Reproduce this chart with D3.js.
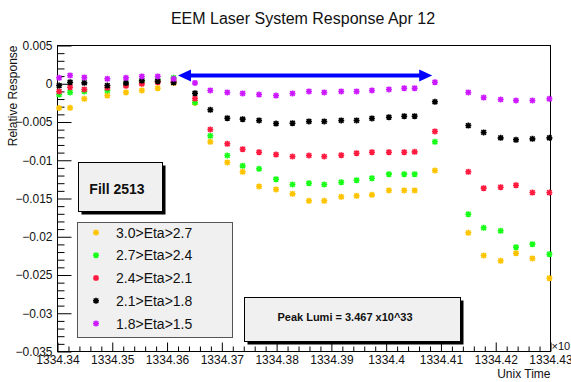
<!DOCTYPE html>
<html>
<head>
<meta charset="utf-8">
<script src="https://cdn.jsdelivr.net/npm/d3@7/dist/d3.min.js"></script>
<style>
  html, body { margin: 0; padding: 0; background: #fff; }
  svg { display: block; font-family: "Liberation Sans", Arial, Helvetica, sans-serif; }
</style>
</head>
<body>
<svg id="chart" width="571" height="382"></svg>
<script>
// Measurement times (Unix time / 10^6)
const times = [
  1334.3403, 1334.3423, 1334.3449, 1334.3491, 1334.3525, 1334.3554, 1334.3583, 1334.3612,
  1334.3651, 1334.3679, 1334.3710, 1334.3738, 1334.3768, 1334.3799, 1334.3829, 1334.3859,
  1334.3887, 1334.3918, 1334.3946, 1334.3974, 1334.4005, 1334.4033, 1334.4052, 1334.4089,
  1334.4150, 1334.4178, 1334.4209, 1334.4237, 1334.4267, 1334.4298
];

// Relative response per eta ring
const eta30_27 = [
  -0.00317, -0.00314, -0.00197, -0.00154, -0.00114, -0.00088, -0.00058, 0.00010,
  -0.00250, -0.00759, -0.01029, -0.01151, -0.01343, -0.01382, -0.01439, -0.01530,
  -0.01530, -0.01478, -0.01465, -0.01452, -0.01395, -0.01395, -0.01395, -0.01134,
  -0.01948, -0.02245, -0.02314, -0.02215, -0.02284, -0.02542
];
const eta27_24 = [
  -0.00141, -0.00114, -0.00101, -0.00088, -0.00010, 0.00033, 0.00052, 0.00078,
  -0.00245, -0.00680, -0.00938, -0.01073, -0.01112, -0.01248, -0.01317, -0.01300,
  -0.01317, -0.01287, -0.01261, -0.01235, -0.01182, -0.01182, -0.01182, -0.00759,
  -0.01705, -0.01883, -0.01922, -0.02137, -0.02097, -0.02228
];
const eta24_21 = [
  -0.00101, -0.00045, -0.00075, -0.00053, -0.00027, -0.00001, 0.00020, 0.00030,
  -0.00193, -0.00598, -0.00785, -0.00856, -0.00895, -0.00925, -0.00951, -0.00938,
  -0.00951, -0.00934, -0.00908, -0.00895, -0.00895, -0.00895, -0.00890, -0.00624,
  -0.01151, -0.01365, -0.01352, -0.01326, -0.01422, -0.01422
];
const eta21_18 = [
  -0.00023, 0.00020, 0.00012, -0.00023, 0.00010, 0.00042, 0.00033, 0.00016,
  -0.00124, -0.00340, -0.00450, -0.00463, -0.00480, -0.00520, -0.00516, -0.00493,
  -0.00493, -0.00480, -0.00480, -0.00454, -0.00437, -0.00424, -0.00424, -0.00236,
  -0.00546, -0.00637, -0.00707, -0.00733, -0.00720, -0.00707
];
const eta18_15 = [
  0.00078, 0.00108, 0.00082, 0.00065, 0.00078, 0.00095, 0.00095, 0.00065,
  0.00010, -0.00088, -0.00114, -0.00127, -0.00141, -0.00154, -0.00127, -0.00101,
  -0.00114, -0.00101, -0.00101, -0.00088, -0.00075, -0.00058, -0.00058, 0.00020,
  -0.00114, -0.00180, -0.00206, -0.00219, -0.00219, -0.00197
];

const seriesNames = ["3.0>Eta>2.7", "2.7>Eta>2.4", "2.4>Eta>2.1", "2.1>Eta>1.8", "1.8>Eta>1.5"];
const seriesValues = [eta30_27, eta27_24, eta24_21, eta21_18, eta18_15];
const seriesColors = ["#ffc400", "#19ff19", "#ff1a40", "#000000", "#cc19ff"];

// Axis ticks
const xTicks = [1334.34, 1334.35, 1334.36, 1334.37, 1334.38, 1334.39, 1334.40, 1334.41, 1334.42, 1334.43];
const yTicks = [0.005, 0, -0.005, -0.01, -0.015, -0.02, -0.025, -0.03, -0.035];

// Stable-luminosity window marked with an arrow
const arrowStart = 1334.3620, arrowEnd = 1334.4084, arrowLevel = 0.00108;

const svg = d3.select("#chart");
const L = 57.5, R = 550.5, T = 45.5, B = 351.5;

const x = d3.scaleLinear().domain([1334.34, 1334.43]).range([L, R]);
const y = d3.scaleLinear().domain([-0.035, 0.005]).range([B, T]);

// Title
svg.append("text").attr("x", 303).attr("y", 23.5).attr("text-anchor", "middle")
  .attr("font-size", 16).attr("fill", "#111").text("EEM Laser System Response Apr 12");

// Minor ticks
const yMinor = d3.range(0, 41).map(i => -0.035 + i * 0.001).filter(v => Math.abs(Math.round(v / 0.005) * 0.005 - v) > 1e-9);
const xMinor = d3.range(0, 46).map(i => 1334.34 + i * 0.002).filter(v => Math.abs(Math.round(v / 0.01) * 0.01 - v) > 1e-9);

svg.append("g").attr("transform", `translate(${L},0)`)
  .call(d3.axisLeft(y).tickValues(yMinor).tickSizeInner(-7).tickSizeOuter(0).tickFormat(""))
  .call(g => g.select(".domain").remove());
svg.append("g").attr("transform", `translate(0,${B})`)
  .call(d3.axisBottom(x).tickValues(xMinor).tickSizeInner(-5).tickSizeOuter(0).tickFormat(""))
  .call(g => g.select(".domain").remove());

// Major ticks with labels
const yAxis = svg.append("g").attr("transform", `translate(${L},0)`)
  .call(d3.axisLeft(y).tickValues(yTicks).tickSizeInner(-14).tickSizeOuter(0).tickPadding(5)
    .tickFormat(d => d === 0 ? "0" : d3.format("")(+d.toFixed(3))));
yAxis.select(".domain").remove();
yAxis.selectAll("text").attr("font-size", 12).attr("fill", "#111").attr("font-family", "Liberation Sans, Arial, sans-serif");

const xAxis = svg.append("g").attr("transform", `translate(0,${B})`)
  .call(d3.axisBottom(x).tickValues(xTicks).tickSizeInner(-9).tickSizeOuter(0).tickPadding(4)
    .tickFormat(d => d3.format("")(+d.toFixed(2))));
xAxis.select(".domain").remove();
xAxis.selectAll("text").attr("font-size", 12).attr("fill", "#111").attr("font-family", "Liberation Sans, Arial, sans-serif");

svg.selectAll(".tick line").attr("stroke", "#000").attr("stroke-width", 1);

// Frame
svg.append("rect").attr("x", L).attr("y", T).attr("width", R - L).attr("height", B - T)
  .attr("fill", "none").attr("stroke", "#000").attr("stroke-width", 1);

// Axis titles
svg.append("text").attr("transform", `translate(17,${T}) rotate(-90)`).attr("text-anchor", "end")
  .attr("font-size", 12).attr("fill", "#111").text("Relative Response");
svg.append("text").attr("x", R).attr("y", 378).attr("text-anchor", "end")
  .attr("font-size", 12).attr("fill", "#111").text("Unix Time");
svg.append("text").attr("x", R + 1).attr("y", 350).attr("font-size", 11).attr("fill", "#111").text("×10");

// Asterisk marker
function star(g, cx, cy, color) {
  const r = 3, d = 2.3;
  g.append("path")
    .attr("d", `M${cx - r},${cy}H${cx + r}M${cx},${cy - r}V${cy + r}M${cx - d},${cy - d}L${cx + d},${cy + d}M${cx - d},${cy + d}L${cx + d},${cy - d}`)
    .attr("stroke", color).attr("stroke-width", 1.6).attr("fill", "none");
}

// Data points
const pts = svg.append("g");
seriesValues.forEach((vals, si) => {
  vals.forEach((v, i) => star(pts, x(times[i]), y(v), seriesColors[si]));
});

// Double-headed arrow
const ax0 = x(arrowStart), ax1 = x(arrowEnd), ay = y(arrowLevel);
svg.append("line").attr("x1", ax0 + 10).attr("x2", ax1 - 10).attr("y1", ay).attr("y2", ay)
  .attr("stroke", "#0000ff").attr("stroke-width", 4);
svg.append("path").attr("d", `M${ax0},${ay}L${ax0 + 13},${ay - 6}L${ax0 + 13},${ay + 6}Z`).attr("fill", "#0000ff");
svg.append("path").attr("d", `M${ax1},${ay}L${ax1 - 13},${ay - 6}L${ax1 - 13},${ay + 6}Z`).attr("fill", "#0000ff");

// Boxes with drop shadow
function shadowBox(x0, y0, w, h, sh) {
  svg.append("rect").attr("x", x0 + sh).attr("y", y0 + sh).attr("width", w).attr("height", h).attr("fill", "#000");
  svg.append("rect").attr("x", x0).attr("y", y0).attr("width", w).attr("height", h)
    .attr("fill", "#f0f0f0").attr("stroke", "#000").attr("stroke-width", 1);
}

shadowBox(78.5, 162.5, 84, 49, 3);
svg.append("text").attr("x", 117).attr("y", 193.5).attr("text-anchor", "middle")
  .attr("font-size", 14).attr("font-weight", "bold").attr("fill", "#111").text("Fill 2513");

shadowBox(244.5, 297.5, 216, 44, 3);
svg.append("text").attr("x", 345).attr("y", 320.5).attr("text-anchor", "middle")
  .attr("font-size", 11).attr("font-weight", "bold").attr("fill", "#111").text("Peak Lumi = 3.467 x10^33");

// Legend
svg.append("rect").attr("x", 77.5).attr("y", 222.5).attr("width", 155).attr("height", 115)
  .attr("fill", "#f0f0f0").attr("stroke", "#555").attr("stroke-width", 1);
const legY = d3.scaleLinear().domain([0, 4]).range([232.5, 323.5]);
seriesNames.forEach((name, i) => {
  star(svg, 96, legY(i), seriesColors[i]);
  svg.append("text").attr("x", 116).attr("y", legY(i) + 5).attr("font-size", 14).attr("fill", "#111").text(name);
});
</script>
</body>
</html>
